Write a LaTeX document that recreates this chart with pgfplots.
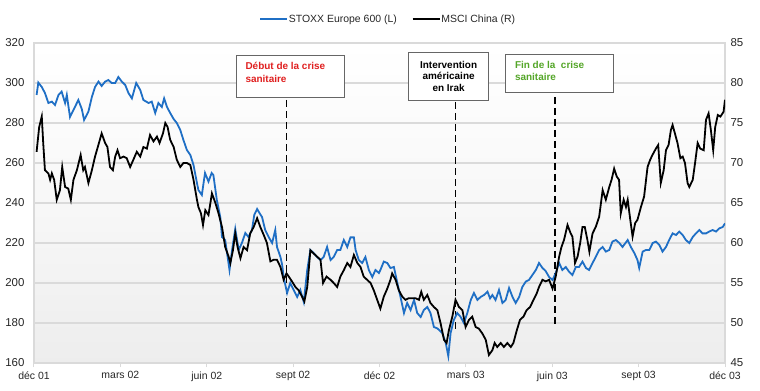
\documentclass[border=0pt]{standalone}
\usepackage{fontspec}
\setmainfont{Liberation Sans}
\usepackage{pgfplots}
\pgfplotsset{compat=1.18}
\usepackage{pgfplotstable}
\definecolor{stoxx}{RGB}{31,111,197}
\definecolor{redtxt}{RGB}{224,32,32}
\definecolor{greentxt}{RGB}{84,166,40}
\definecolor{gridc}{RGB}{218,218,218}

% STOXX Europe 600 (left axis); x in months since Dec 2001
\pgfplotstableread{
m v
0.09 294
0.15 300.2
0.27 298
0.38 295
0.50 290
0.62 290.7
0.73 289
0.85 294
0.96 295.7
1.08 290
1.14 294
1.25 283
1.37 286.5
1.54 291.5
1.66 287
1.74 281.5
1.89 285.7
2.01 293
2.12 298
2.24 300.7
2.35 298.5
2.47 300.7
2.58 301.5
2.70 300
2.82 300
2.93 303
3.05 300.7
3.17 299
3.28 295
3.40 292.3
3.55 300
3.69 296.5
3.80 291.5
3.98 290
4.09 290.7
4.21 285
4.32 290
4.44 288
4.52 292.3
4.62 288
4.73 285
4.85 282
4.96 280
5.08 276.5
5.19 271.5
5.31 266.5
5.43 264
5.54 259
5.66 250
5.71 246.5
5.83 244
5.94 255
6.06 250.7
6.17 255
6.23 254
6.35 241.5
6.47 233
6.53 223
6.64 221.5
6.79 206.5
6.88 216.5
6.99 227
7.11 216.5
7.22 220
7.34 225
7.45 223
7.57 226.5
7.65 234
7.75 237
7.83 235
7.92 233
8.03 226.5
8.15 223
8.27 220
8.38 226.5
8.44 218
8.56 213
8.62 209
8.67 203
8.79 195
8.90 200
9.02 196.5
9.14 193
9.25 196.5
9.37 190.5
9.49 206.5
9.60 216.5
9.71 215
9.83 213
9.95 211.5
10.06 213
10.18 218
10.30 211.5
10.41 213
10.53 216.5
10.64 216.5
10.76 221.5
10.88 218
10.99 222.8
11.11 222.8
11.17 216.5
11.28 211.5
11.40 210
11.51 213
11.63 206.5
11.75 203
11.86 206.5
11.98 205
12.03 206.5
12.15 210.7
12.27 210
12.38 207.5
12.50 208
12.62 200
12.73 193
12.85 185
12.96 190
13.08 186.5
13.20 191.5
13.31 185
13.43 183
13.54 186.5
13.66 188
13.77 185
13.89 178
14.01 177.3
14.18 175
14.30 170
14.39 163.5
14.47 175
14.58 181.5
14.70 185
14.82 183
14.93 180
15.05 185
15.17 191.5
15.28 195
15.40 191.5
15.51 193
15.63 194
15.75 195.7
15.84 192.3
15.92 194
16.03 191.5
16.15 196.5
16.27 190
16.38 191.5
16.50 197.5
16.62 193
16.73 190
16.85 193
16.96 198
17.08 200.7
17.19 201.5
17.31 204
17.43 206.5
17.54 210
17.66 207.5
17.77 206
17.89 203
18.01 201.5
18.12 205
18.24 210
18.35 206.5
18.47 208
18.58 205.7
18.70 204
18.82 208
18.93 208
19.05 210.7
19.17 207.5
19.28 206.5
19.40 210
19.51 213
19.63 216.5
19.75 218
19.86 215.7
19.98 216.5
20.09 220.7
20.21 221.5
20.33 220
20.44 218
20.62 221.5
20.73 218
20.85 215
20.96 211.5
21.02 207.5
21.14 215.7
21.25 216.5
21.37 216.5
21.49 220
21.60 220.7
21.72 219
21.83 215.7
21.95 218
22.06 221.5
22.18 224.8
22.30 224
22.41 225.7
22.53 224
22.64 221.5
22.76 220
22.88 223
22.99 224.8
23.11 226.5
23.22 224.8
23.34 224.8
23.45 225.7
23.57 226.5
23.69 225.7
23.80 227.3
23.92 228
24.00 229.8
}\stoxxdata

% MSCI China (right axis)
\pgfplotstableread{
m v
0.09 71.4
0.18 74.5
0.27 75.8
0.32 72.5
0.38 69.1
0.50 68.7
0.56 67.9
0.62 68.7
0.70 67.9
0.79 65.4
0.90 66.6
0.98 69.5
1.08 67.0
1.19 66.8
1.28 65.4
1.37 67.9
1.49 69.1
1.62 71.0
1.71 69.1
1.77 69.5
1.89 67.5
2.01 69.1
2.12 70.8
2.24 72.3
2.35 73.7
2.47 72.5
2.55 72.0
2.64 69.5
2.74 69.1
2.82 70.8
2.90 71.6
2.99 70.6
3.11 70.8
3.22 70.6
3.34 69.5
3.45 70.4
3.57 71.4
3.69 70.8
3.80 72.0
3.92 71.8
4.03 73.5
4.15 72.7
4.27 73.3
4.36 72.5
4.48 73.7
4.56 75.0
4.64 74.5
4.73 72.9
4.85 72.0
4.96 70.4
5.08 69.5
5.19 70.0
5.31 70.0
5.43 69.75
5.54 67.9
5.66 65.4
5.71 64.5
5.80 63.7
5.87 62.25
5.95 64.1
6.06 63.5
6.18 66.2
6.30 65.0
6.41 63.7
6.53 62.0
6.64 59.5
6.76 58.3
6.82 57.5
6.91 59.1
6.99 61.2
7.07 59.5
7.17 58.1
7.28 59.5
7.40 59.1
7.51 61.2
7.63 62.0
7.75 63.1
7.86 62.0
7.98 61.0
8.09 60.0
8.21 57.7
8.32 57.9
8.44 57.9
8.56 57.0
8.67 55.4
8.77 56.2
8.85 55.8
8.96 55.2
9.08 54.5
9.19 54.1
9.31 53.3
9.39 52.7
9.49 54.5
9.60 59.1
9.71 58.7
9.83 58.3
9.95 57.9
10.04 55.0
10.16 55.8
10.30 55.4
10.41 55.0
10.53 54.5
10.64 55.8
10.76 56.6
10.88 57.5
10.99 57.0
11.11 58.5
11.23 57.5
11.34 57.0
11.45 55.8
11.57 55.4
11.69 55.0
11.80 54.1
11.92 52.9
12.03 51.8
12.15 53.3
12.27 54.3
12.38 55.4
12.44 56.2
12.56 55.4
12.67 54.1
12.79 53.3
12.90 52.9
13.02 53.1
13.14 53.1
13.25 53.1
13.37 52.9
13.45 53.9
13.54 52.9
13.66 53.5
13.77 52.5
13.89 52.0
14.01 51.6
14.12 50.0
14.24 47.9
14.33 47.5
14.41 49.1
14.53 50.8
14.64 52.9
14.76 52.0
14.88 51.6
14.99 49.5
15.11 50.4
15.22 50.8
15.34 49.5
15.45 49.3
15.57 48.7
15.69 47.9
15.80 46.0
15.92 46.6
16.00 47.5
16.09 47.0
16.21 47.5
16.32 47.0
16.44 47.5
16.56 47.0
16.65 47.5
16.77 49.1
16.88 50.4
17.00 50.8
17.11 51.6
17.23 52.0
17.35 52.9
17.46 53.7
17.54 54.5
17.66 55.4
17.77 55.2
17.89 55.4
18.01 54.3
18.12 55.8
18.24 58.3
18.32 59.5
18.41 60.4
18.53 62.25
18.64 61.2
18.70 60.8
18.79 57.5
18.88 58.3
18.97 60.0
19.05 62.0
19.13 62.0
19.22 60.4
19.29 58.9
19.40 61.2
19.51 62.0
19.63 63.3
19.75 66.6
19.86 65.4
19.98 67.0
20.06 67.9
20.15 69.3
20.24 68.3
20.32 67.9
20.38 63.7
20.48 65.4
20.56 64.5
20.62 65.4
20.71 62.9
20.79 60.8
20.88 62.5
20.96 62.9
21.08 64.5
21.19 65.8
21.31 69.5
21.40 70.4
21.48 71.0
21.60 71.8
21.68 72.25
21.77 67.5
21.87 69.1
21.95 71.6
22.04 72.25
22.12 74.1
22.18 74.75
22.26 73.7
22.35 72.5
22.45 70.6
22.53 70.8
22.61 70.0
22.70 67.5
22.76 67.0
22.88 67.9
22.96 70.0
23.05 72.5
23.14 71.8
23.26 71.6
23.34 75.4
23.43 76.2
23.51 74.1
23.59 71.6
23.66 74.5
23.75 76.0
23.84 75.8
23.95 76.4
24.00 77.9
}\chinadata

\begin{document}
\begin{tikzpicture}
\useasboundingbox (-34bp,-28bp) rectangle (726bp,363bp);
\begin{axis}[
  at={(0,0)}, anchor=south west,
  scale only axis, width=691bp, height=320bp,
  xmin=0, xmax=24, ymin=160, ymax=320,
  xtick={0,3,...,24},
  xticklabels={déc 01,mars 02,juin 02,sept 02,déc 02,mars 03,juin 03,sept 03,déc 03},
  ytick={160,180,...,320},
  ymajorgrids,
  grid style={gridc, line width=1.2bp},
  axis line style={gridc, line width=1.6bp},
  xtick pos=bottom, ytick pos=left, tick align=outside,
  major tick length=4bp,
  xtick style={gridc, line width=1bp},
  ytick style={draw=none},
  /pgf/number format/assume math mode=true,
  xticklabel style={font=\fontsize{10.5}{12}\selectfont, text=black!85, yshift=-1bp},
  yticklabel style={font=\fontsize{11.5}{13}\selectfont, text=black!85, xshift=-2bp},
  axis background/.style={top color=white, bottom color=black!7, middle color=black!3},
]
\draw[black, line width=1.9bp, dash pattern=on 7bp off 4bp] (axis cs:8.77,291.5) -- (axis cs:8.77,176.5);
\draw[black, line width=1.9bp, dash pattern=on 7bp off 4bp] (axis cs:14.64,290.5) -- (axis cs:14.64,175.5);
\draw[black, line width=1.9bp, dash pattern=on 7bp off 4bp] (axis cs:18.09,293) -- (axis cs:18.09,178);
\draw[black!60, line width=0.9bp, fill=white] (axis cs:7.03,314) rectangle (axis cs:10.78,293);
\node[anchor=north west, align=left, inner sep=0pt, font=\bfseries\fontsize{10}{13}\selectfont, text=redtxt] at (axis cs:7.34,310.5) {Début de la crise\\sanitaire};
\draw[black!60, line width=0.9bp, fill=white] (axis cs:13.01,315.5) rectangle (axis cs:15.79,291.5);
\node[anchor=north, align=center, inner sep=0pt, font=\bfseries\fontsize{10}{11.7}\selectfont, text=black] at (axis cs:14.40,311.2) {Intervention\\américaine\\en Irak};
\draw[black!60, line width=0.9bp, fill=white] (axis cs:16.38,314.5) rectangle (axis cs:20.14,295.5);
\node[anchor=north west, align=left, inner sep=0pt, font=\bfseries\fontsize{10}{12}\selectfont, text=greentxt] at (axis cs:16.70,311) {Fin de la\ \ crise\\sanitaire};
\addplot[stoxx, line width=1.8bp] table[x=m, y=v] {\stoxxdata};
\end{axis}
\begin{axis}[
  at={(0,0)}, anchor=south west,
  scale only axis, width=691bp, height=320bp,
  xmin=0, xmax=24, ymin=45, ymax=85,
  ytick={45,50,...,85},
  axis x line=none,
  axis y line*=right,
  axis line style={draw=none},
  ytick style={draw=none},
  /pgf/number format/assume math mode=true,
  yticklabel style={font=\fontsize{11.5}{13}\selectfont, text=black!85, xshift=2bp},
  legend columns=2,
  legend style={draw=none, fill=none, at={(0.512,1.075)}, anchor=center,
    font=\fontsize{10.5}{12}\selectfont, text=black!85,
    /tikz/every even column/.append style={column sep=14bp},
    nodes={inner xsep=1bp}},
  legend image code/.code={\draw[#1, line width=1.5bp] (0bp,0bp) -- (27bp,0bp);},
]
\addlegendimage{stoxx, line width=1.8bp}
\addlegendentry{STOXX Europe 600 (L)}
\addplot[black, line width=1.8bp] table[x=m, y=v] {\chinadata};
\addlegendentry{MSCI China (R)}
\end{axis}
\end{tikzpicture}
\end{document}
